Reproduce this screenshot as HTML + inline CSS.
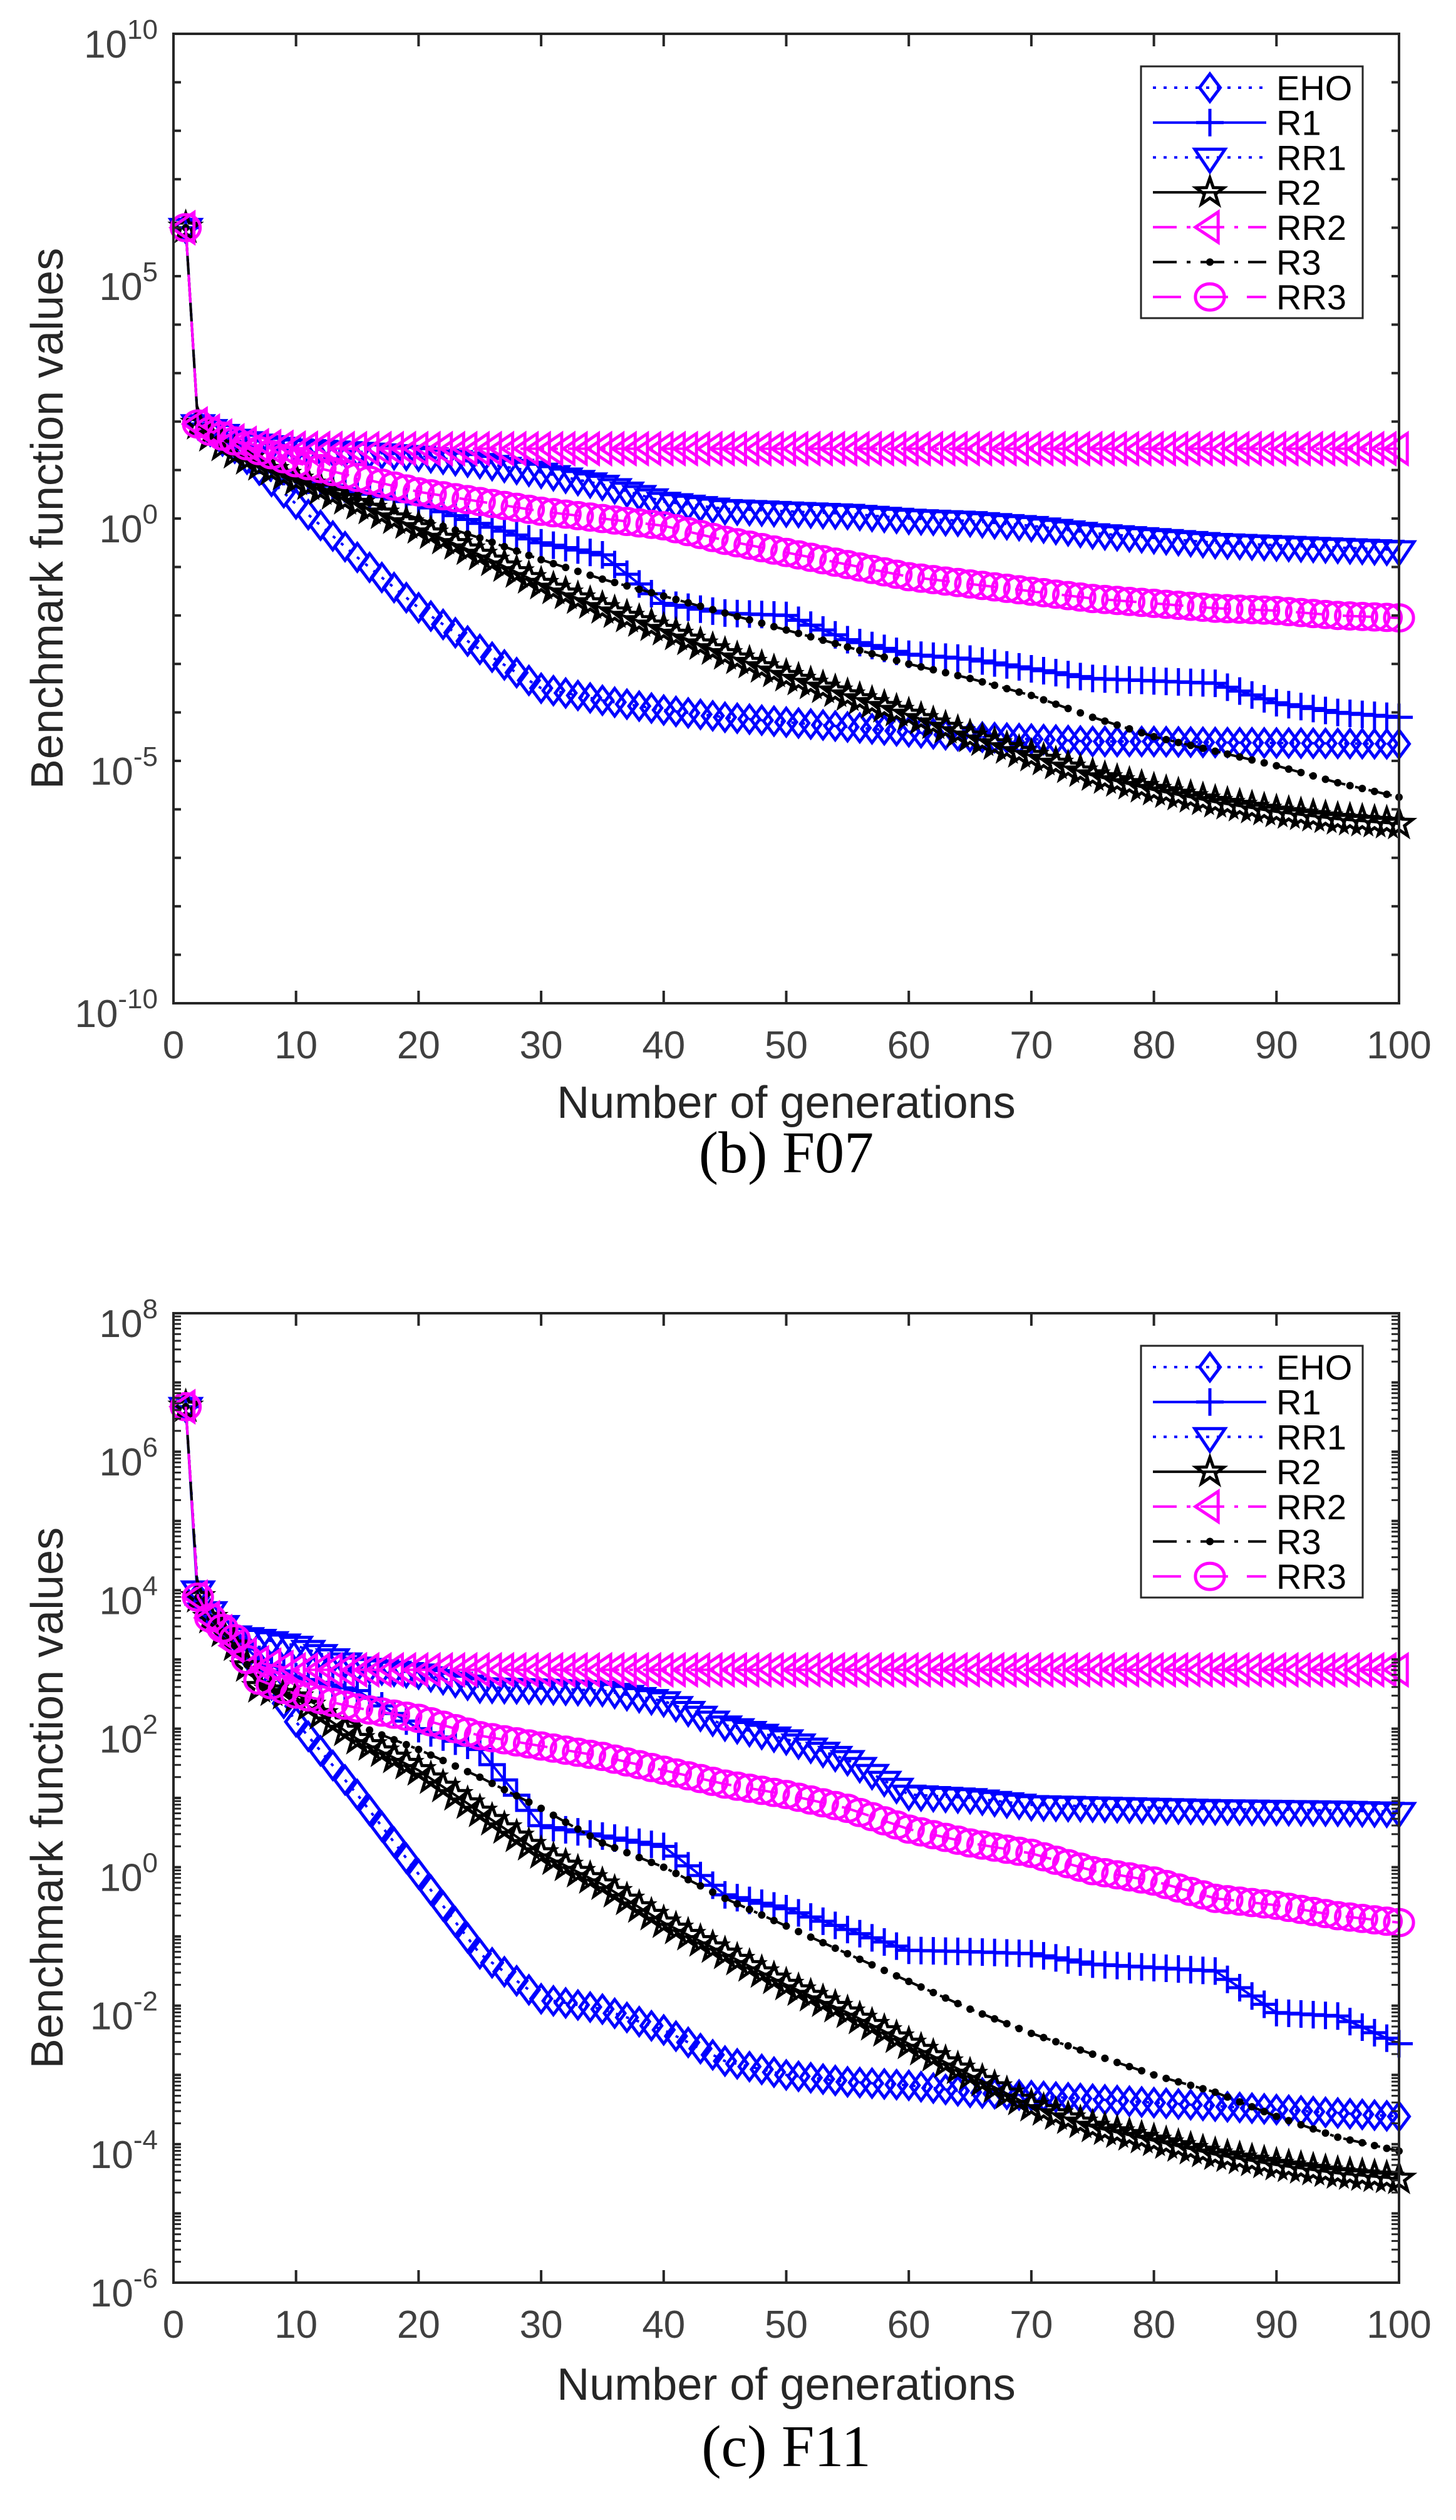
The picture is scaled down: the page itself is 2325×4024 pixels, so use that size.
<!DOCTYPE html>
<html><head><meta charset="utf-8">
<style>
html,body{margin:0;padding:0;background:#fff;}
svg{display:block;}
</style></head>
<body>
<svg id="fig" xmlns="http://www.w3.org/2000/svg" width="2325" height="4024" viewBox="0 0 2325 4024" font-family="Liberation Sans, sans-serif">
<rect x="0" y="0" width="2325" height="4024" fill="#fff"/>
<g id="chartA"></g>
<g id="chartB"></g>
</svg>
<script>
// shared generation grid (x values at which curves were read)
const gens = [1,2,3,4,5,7,10,15,20,25,30,35,40,45,50,55,60,65,70,75,80,85,90,95,100];
const xTicks = [0,10,20,30,40,50,60,70,80,90,100];
const seriesNames = ["EHO","R1","RR1","R2","RR2","R3","RR3"];

// F07 series (log10 of benchmark value)
const f07EHO = [6,1.95,1.8,1.6,1.45,1.0,0.3,-0.8,-1.84,-2.7,-3.5,-3.75,-3.95,-4.1,-4.2,-4.3,-4.4,-4.5,-4.55,-4.6,-4.6,-4.62,-4.63,-4.64,-4.65];
const f07R1 = [6,1.95,1.8,1.65,1.5,1.2,0.85,0.55,0.3,-0.1,-0.5,-0.75,-1.75,-1.95,-2.0,-2.5,-2.8,-2.9,-3.1,-3.3,-3.35,-3.4,-3.8,-4.0,-4.1];
const f07RR1 = [6,1.95,1.85,1.75,1.65,1.55,1.45,1.38,1.3,1.15,0.95,0.7,0.35,0.2,0.15,0.1,0.0,-0.05,-0.15,-0.3,-0.4,-0.5,-0.55,-0.6,-0.65];
const f07R2 = [6,1.95,1.7,1.5,1.35,1.1,0.8,0.3,-0.2,-0.75,-1.35,-1.85,-2.3,-2.8,-3.25,-3.65,-4.05,-4.5,-4.9,-5.3,-5.6,-5.85,-6.05,-6.2,-6.3];
const f07RR2 = [6,1.95,1.8,1.7,1.6,1.5,1.45,1.44,1.44,1.44,1.44,1.44,1.44,1.44,1.44,1.44,1.44,1.44,1.44,1.44,1.44,1.44,1.44,1.44,1.44];
const f07R3 = [6,1.95,1.7,1.5,1.35,1.1,0.8,0.4,0.0,-0.4,-0.85,-1.25,-1.6,-1.95,-2.3,-2.65,-3.0,-3.3,-3.65,-4.1,-4.5,-4.8,-5.1,-5.45,-5.75];
const f07RR3 = [6,1.95,1.8,1.7,1.6,1.4,1.15,0.85,0.55,0.35,0.15,0.0,-0.15,-0.45,-0.7,-0.95,-1.2,-1.35,-1.5,-1.65,-1.75,-1.85,-1.9,-2.0,-2.05];
const f07YTicks = [10,5,0,-5,-10];

// F11 series (log10 of benchmark value)
const f11EHO = [6.65,3.9,3.65,3.45,3.25,2.9,2.1,1.05,-0.1,-1.25,-1.9,-2.05,-2.35,-2.8,-3.0,-3.1,-3.15,-3.25,-3.3,-3.35,-3.4,-3.45,-3.5,-3.55,-3.6];
const f11R1 = [6.65,3.8,3.6,3.45,3.3,3.0,2.75,2.55,2.0,1.7,0.6,0.45,0.3,-0.4,-0.6,-0.9,-1.2,-1.22,-1.25,-1.4,-1.45,-1.5,-2.1,-2.15,-2.55];
const f11RR1 = [6.65,4.0,3.7,3.5,3.35,3.3,3.2,2.9,2.8,2.6,2.58,2.55,2.4,2.05,1.85,1.55,1.05,1.0,0.9,0.88,0.86,0.84,0.83,0.82,0.8];
const f11R2 = [6.65,3.9,3.6,3.4,3.2,2.6,2.45,1.85,1.4,0.8,0.2,-0.25,-0.8,-1.25,-1.7,-2.1,-2.55,-3.0,-3.45,-3.75,-3.95,-4.15,-4.3,-4.42,-4.5];
const f11RR2 = [6.65,3.9,3.6,3.4,3.2,2.95,2.85,2.85,2.85,2.85,2.85,2.85,2.85,2.85,2.85,2.85,2.85,2.85,2.85,2.85,2.85,2.85,2.85,2.85,2.85];
const f11R3 = [6.65,3.9,3.6,3.4,3.2,2.65,2.5,2.05,1.7,1.3,0.85,0.35,0.0,-0.45,-0.85,-1.25,-1.65,-2.05,-2.4,-2.7,-3.0,-3.25,-3.6,-3.9,-4.1];
const f11RR3 = [6.65,3.9,3.6,3.45,3.3,2.7,2.5,2.3,2.15,1.9,1.75,1.6,1.4,1.2,1.05,0.85,0.55,0.35,0.2,-0.05,-0.2,-0.45,-0.55,-0.7,-0.8];
const f11YTicks = [8,6,4,2,0,-2,-4,-6];

const NS = "http://www.w3.org/2000/svg";
function mk(tag, attrs, parent){
  const e = document.createElementNS(NS, tag);
  for (const k in attrs) e.setAttribute(k, attrs[k]);
  if (parent) parent.appendChild(e);
  return e;
}
const STY = {
  EHO:{color:"#0000ff", dash:"5,12", marker:"diamond"},
  R1:{color:"#0000ff", dash:"", marker:"plus"},
  RR1:{color:"#0000ff", dash:"5,12", marker:"tridown"},
  R2:{color:"#000000", dash:"", marker:"star"},
  RR2:{color:"#ff00ff", dash:"38,16,6,16", marker:"trileft"},
  R3:{color:"#000000", dash:"38,16,6,16", marker:"dot"},
  RR3:{color:"#ff00ff", dash:"45,30", marker:"circle"}
};
function markerShape(type, cx, cy, color, parent){
  const s = 22, sw = 5;
  let el;
  if (type === "diamond") el = mk("polygon",{points:`${cx},${cy-s} ${cx+s*0.75},${cy} ${cx},${cy+s} ${cx-s*0.75},${cy}`,fill:"none",stroke:color,"stroke-width":sw},parent);
  else if (type === "plus") el = mk("path",{d:`M${cx-s} ${cy}H${cx+s}M${cx} ${cy-s}V${cy+s}`,stroke:color,"stroke-width":sw,fill:"none"},parent);
  else if (type === "tridown") el = mk("polygon",{points:`${cx-s*1.1},${cy-s*0.6} ${cx+s*1.1},${cy-s*0.6} ${cx},${cy+s*1.05}`,fill:"none",stroke:color,"stroke-width":sw},parent);
  else if (type === "trileft") el = mk("polygon",{points:`${cx+s*0.6},${cy-s*1.1} ${cx+s*0.6},${cy+s*1.1} ${cx-s*1.05},${cy}`,fill:"none",stroke:color,"stroke-width":sw},parent);
  else if (type === "circle") el = mk("ellipse",{cx:cx,cy:cy,rx:s*1.05,ry:s*0.95,fill:"none",stroke:color,"stroke-width":sw},parent);
  else if (type === "dot") el = mk("circle",{cx:cx,cy:cy,r:6,fill:color},parent);
  else if (type === "star"){
    let p = [];
    for (let i=0;i<10;i++){
      const r = i%2===0 ? s*1.05 : s*0.42;
      const a = -Math.PI/2 + i*Math.PI/5;
      p.push((cx+r*Math.cos(a)).toFixed(1)+","+(cy+r*Math.sin(a)).toFixed(1));
    }
    el = mk("polygon",{points:p.join(" "),fill:"none",stroke:color,"stroke-width":sw,"stroke-linejoin":"miter"},parent);
  }
  return el;
}
function interp(vals, g){
  for (let i=0;i<gens.length-1;i++){
    if (g>=gens[i] && g<=gens[i+1]){
      const t=(g-gens[i])/(gens[i+1]-gens[i]);
      return vals[i]+(vals[i+1]-vals[i])*t;
    }
  }
  return vals[vals.length-1];
}

function drawChart(root, cfg){
  const L=277, R=2234, T=cfg.top, B=cfg.top+1548;
  const xS = g => L + g/100*(R-L);
  const yS = v => T + (cfg.ymax - v)/(cfg.ymax-cfg.ymin)*(B-T);

  const sg = mk("g",{},root);
  
  
  cfg.series.forEach((vals, si) => {
    const name = seriesNames[si];
    const st = STY[name];
    const g = mk("g",{},sg);
    
    
    const pts = gens.map((gg,i)=>xS(gg).toFixed(1)+","+yS(vals[i]).toFixed(1)).join(" ");
    const line = mk("polyline",{points:pts,fill:"none",stroke:st.color,"stroke-width":4,"stroke-dasharray":st.dash},g);
    
    
    for (let k=1;k<=100;k++){
      const m = markerShape(st.marker, xS(k), yS(interp(vals,k)), st.color, g);
      
      
    }
  });

  const ax = mk("g",{},root);
  
  
  mk("rect",{x:L,y:T,width:R-L,height:B-T,fill:"none",stroke:"#262626","stroke-width":4},ax);
  xTicks.forEach(t=>{
    const x=xS(t);
    mk("line",{x1:x,y1:B,x2:x,y2:B-20,stroke:"#262626","stroke-width":4},ax);
    mk("line",{x1:x,y1:T,x2:x,y2:T+20,stroke:"#262626","stroke-width":4},ax);
    const tx = mk("text",{x:x,y:B+88,"font-size":62,fill:"#404040","text-anchor":"middle"},ax);
    tx.textContent = t;
    
    
  });
  for (let d=cfg.ymin; d<=cfg.ymax; d++){
    const y=yS(d);
    mk("line",{x1:L,y1:y,x2:L+12,y2:y,stroke:"#262626","stroke-width":4},ax);
    mk("line",{x1:R,y1:y,x2:R-12,y2:y,stroke:"#262626","stroke-width":4},ax);
    if (cfg.minor && d<cfg.ymax){
      for (let m=2;m<=9;m++){
        const ym=yS(d+Math.log10(m));
        mk("line",{x1:L,y1:ym,x2:L+12,y2:ym,stroke:"#262626","stroke-width":3},ax);
        mk("line",{x1:R,y1:ym,x2:R-12,y2:ym,stroke:"#262626","stroke-width":3},ax);
      }
    }
  }
  cfg.yTicks.forEach(v=>{
    const y=yS(v);
    const tx = mk("text",{x:252,y:y+38,"font-size":62,fill:"#404040","text-anchor":"end"},ax);
    
    
    const a = mk("tspan",{},tx); a.textContent="10";
    const b = mk("tspan",{"font-size":44,dy:-30},tx); b.textContent=String(v);
  });
  const xt = mk("text",{x:(L+R)/2,y:cfg.xTitleY,"font-size":72,fill:"#262626","text-anchor":"middle"},root);
  xt.textContent="Number of generations";
  
  
  const yc=(T+B)/2;
  const yt = mk("text",{x:100,y:yc,"font-size":72,fill:"#262626","text-anchor":"middle",transform:`rotate(-90 100 ${yc})`},root);
  yt.textContent="Benchmark function values";
  
  
  const cap = mk("text",{x:(L+R)/2,y:cfg.capY,"font-size":94,fill:"#000","text-anchor":"middle","font-family":"Liberation Serif, serif"},root);
  cap.textContent=cfg.caption;
  
  

  const lg = mk("g",{},root);
  
  
  const lt=T+52;
  mk("rect",{x:1822,y:lt,width:354,height:402,fill:"#fff",stroke:"#262626","stroke-width":3},lg);
  seriesNames.forEach((n,i)=>{
    const st=STY[n];
    const y=lt+34+i*55.7;
    const e = mk("g",{},lg);
    
    
    mk("line",{x1:1841,y1:y,x2:2022,y2:y,stroke:st.color,"stroke-width":4,"stroke-dasharray":st.dash},e);
    markerShape(st.marker,1932,y,st.color,e);
    const tx=mk("text",{x:2038,y:y+20,"font-size":56,fill:"#000"},e);
    tx.textContent=n;
  });
}

drawChart(document.getElementById("chartA"),{
  top:54, ymin:-10, ymax:10, minor:false, yTicks:f07YTicks,
  series:[f07EHO,f07R1,f07RR1,f07R2,f07RR2,f07R3,f07RR3],
  xTitleY:1785, capY:1872, caption:"(b) F07"
});
drawChart(document.getElementById("chartB"),{
  top:2097, ymin:-6, ymax:8, minor:true, yTicks:f11YTicks,
  series:[f11EHO,f11R1,f11RR1,f11R2,f11RR2,f11R3,f11RR3],
  xTitleY:3832, capY:3938, caption:"(c) F11"
});
</script>
</body></html>
